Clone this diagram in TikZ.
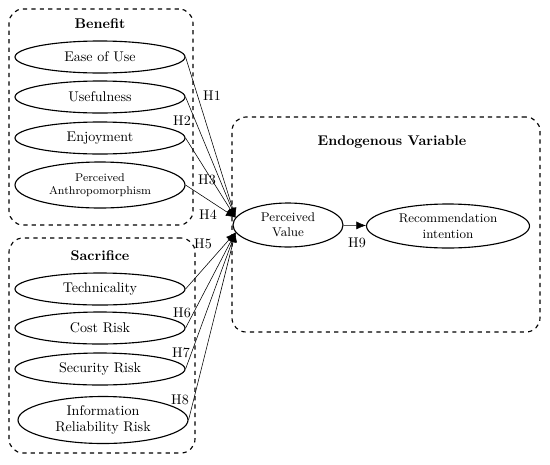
\documentclass[tikz,border=0pt]{standalone}
\usepackage{xcolor}
\usepackage{tikz}
\usetikzlibrary{arrows.meta, positioning, shapes.geometric}

\begin{document}
\begin{tikzpicture}[
  var/.style={draw, ellipse, thick, inner sep=0pt, minimum width=4.25cm, minimum height=0.8cm, align=center, font=\normalsize},
  bigbox/.style={draw, rounded corners=10pt, dashed, thick},
  title/.style={font=\bfseries},
  hyp/.style={font=\normalsize, inner sep=1pt},
  arr/.style={-{Latex[length=2.4mm, width=2mm]}, thin},
]
  \useasboundingbox (0,0) rectangle (13.75,-11.6);

  % Benefit group
  \node[bigbox, minimum width=4.6cm, minimum height=5.4cm] (benefit) at (2.525, -2.925) {};
  \node[title] (bentitle) at (2.5, -0.6) {Benefit};
  \node[var] (ease) at (2.5, -1.425) {Ease of Use};
  \node[var] (useful) at (2.5, -2.425) {Usefulness};
  \node[var] (enjoy) at (2.5, -3.45) {Enjoyment};
  \node[var, minimum height=1.15cm, font=\footnotesize] (anthro) at (2.5, -4.625) {Perceived\\Anthropomorphism};

  % Sacrifice group
  \node[bigbox, minimum width=4.65cm, minimum height=5.375cm] (sacrifice) at (2.55, -8.6375) {};
  \node[title] (sactitle) at (2.5, -6.4) {Sacrifice};
  \node[var] (tech) at (2.5, -7.225) {Technicality};
  \node[var] (cost) at (2.5, -8.2) {Cost Risk};
  \node[var] (security) at (2.5, -9.225) {Security Risk};
  \node[var, minimum height=1.175cm] (inforel) at (2.575, -10.5) {Information\\Reliability Risk};

  % Endogenous group
  \node[bigbox, minimum width=7.7cm, minimum height=5.375cm] (endo) at (9.65, -5.6125) {};
  \node[title] (endotitle) at (9.8, -3.55) {Endogenous Variable};
  \node[var, minimum width=2.75cm, minimum height=1.1cm, font=\small] (pv) at (7.2, -5.625) {Perceived\\Value};
  \node[var, minimum width=4.075cm, minimum height=1.1cm, font=\small] (ri) at (11.2, -5.65) {Recommendation\\intention};

  % Arrows
  \foreach \src in {ease, useful, enjoy, anthro}
    \draw[arr] (\src.east) -- (pv.172);
  \foreach \src in {tech, cost, security, inforel}
    \draw[arr] (\src.east) -- (pv.188);
  \draw[arr] (pv) -- (ri);

  % Hypotheses
  \node[hyp] (h1) at (5.3, -2.4) {H1};
  \node[hyp] (h2) at (4.55, -3.025) {H2};
  \node[hyp] (h3) at (5.175, -4.5) {H3};
  \node[hyp] (h4) at (5.2, -5.375) {H4};
  \node[hyp] (h5) at (5.075, -6.1) {H5};
  \node[hyp] (h6) at (4.55, -7.825) {H6};
  \node[hyp] (h7) at (4.525, -8.825) {H7};
  \node[hyp] (h8) at (4.5, -10.0) {H8};
  \node[hyp] (h9) at (8.925, -6.075) {H9};
\end{tikzpicture}
\end{document}
